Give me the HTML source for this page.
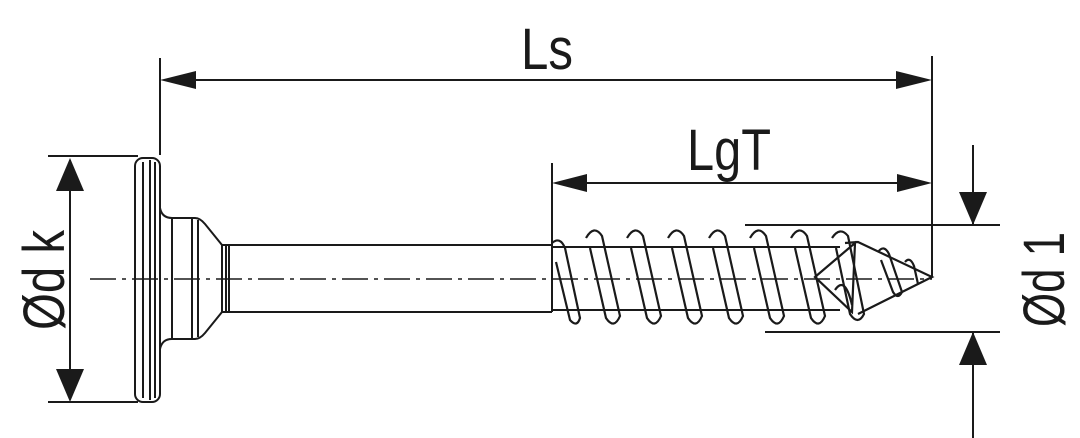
<!DOCTYPE html>
<html><head><meta charset="utf-8"><style>html,body{margin:0;padding:0;background:#fff}svg{display:block}</style></head>
<body>
<svg width="1080" height="438" viewBox="0 0 1080 438" xmlns="http://www.w3.org/2000/svg" font-family="'Liberation Sans Narrow','Liberation Sans',sans-serif">
<g stroke="#1a1a1a" stroke-width="2" fill="none">
<line x1="160" y1="58" x2="160" y2="155"/>
<line x1="932" y1="56" x2="932" y2="277"/>
<line x1="552" y1="163" x2="552" y2="245"/>
<line x1="48" y1="156" x2="138" y2="156"/>
<line x1="48" y1="402" x2="138" y2="402"/>
<line x1="745" y1="225" x2="1000" y2="225"/>
<line x1="765" y1="332" x2="1000" y2="332"/>
<line x1="165" y1="80" x2="928" y2="80"/>
<line x1="556" y1="183" x2="928" y2="183"/>
<line x1="70" y1="160" x2="70" y2="398"/>
<line x1="973" y1="145" x2="973" y2="225"/>
<line x1="973" y1="332" x2="973" y2="438"/>
<line x1="90" y1="279" x2="932" y2="279" stroke-width="1.5" stroke-dasharray="26,6,4,6"/>
<rect x="135" y="158" width="25" height="244" rx="8"/>
<line x1="143" y1="162" x2="143" y2="398"/><line x1="150" y1="160" x2="150" y2="400"/><line x1="155" y1="162" x2="155" y2="398"/>
<path d="M160 208 Q162 218 172 218 L195 218 Q200 218 205 224 L222 245 L222 312 L205 333 Q200 339 195 339 L172 339 Q162 339 160 349"/>
<line x1="172" y1="218" x2="172" y2="339"/>
<line x1="192" y1="218" x2="192" y2="339"/>
<line x1="198" y1="220" x2="198" y2="337"/>
<line x1="226" y1="245" x2="226" y2="312"/>
<line x1="229" y1="245" x2="229" y2="312"/>
<line x1="222" y1="245" x2="552" y2="245"/>
<line x1="222" y1="312" x2="552" y2="312"/>
<line x1="552" y1="245" x2="552" y2="312"/>
<line x1="552" y1="247" x2="840" y2="247"/>
<line x1="552" y1="310" x2="840" y2="310"/>
<g stroke-width="2.2">
<path d="M552 243 Q560 236 565 248 L580 318 Q577 328 570 320 L556 262"/>
<path d="M586 238 Q594 224 602 236 L620 316 Q614 330 606 318 L590 248"/>
<path d="M627 238 Q635 224 643 236 L661 316 Q655 330 647 318 L631 248"/>
<path d="M668 238 Q676 224 684 236 L702 316 Q696 330 688 318 L672 248"/>
<path d="M709 238 Q717 224 725 236 L743 316 Q737 330 729 318 L713 248"/>
<path d="M750 238 Q758 224 766 236 L784 316 Q778 330 770 318 L754 248"/>
<path d="M791 238 Q799 224 807 236 L825 316 Q819 330 811 318 L795 248"/>
<path d="M832 238 Q840 226 848 236 L864 314 Q858 326 850 314 L836 248"/>
<path d="M815 277 L855 243 L852 312 Z"/>
<path d="M845 243 L858 242 L932 277 L858 314"/>
<path d="M878 252 Q884 244 889 254 L902 292 Q898 300 893 292 L881 260"/>
<path d="M905 262 Q910 256 914 266 L918 284"/>
<path d="M835 290 Q845 275 852 305"/>
</g>
</g>
<g fill="#1a1a1a">
<polygon points="160,80 196,71 196,89"/>
<polygon points="932,80 896,71 896,89"/>
<polygon points="552,183 587,174 587,192"/>
<polygon points="932,183 897,174 897,192"/>
<polygon points="70,158 56,191 84,191"/>
<polygon points="70,402 56,369 84,369"/>
<polygon points="973,225 959,192 987,192"/>
<polygon points="973,332 959,365 987,365"/>
</g>
<g fill="#1a1a1a" font-size="58">
<text x="521" y="69" textLength="52" lengthAdjust="spacingAndGlyphs">Ls</text>
<text x="687" y="170" textLength="84" lengthAdjust="spacingAndGlyphs">LgT</text>
<text transform="translate(64,330) rotate(-90)" textLength="100" lengthAdjust="spacingAndGlyphs">Ød k</text>
<text transform="translate(1064,327) rotate(-90)" textLength="95" lengthAdjust="spacingAndGlyphs">Ød 1</text>
</g>
</svg>
</body></html>
